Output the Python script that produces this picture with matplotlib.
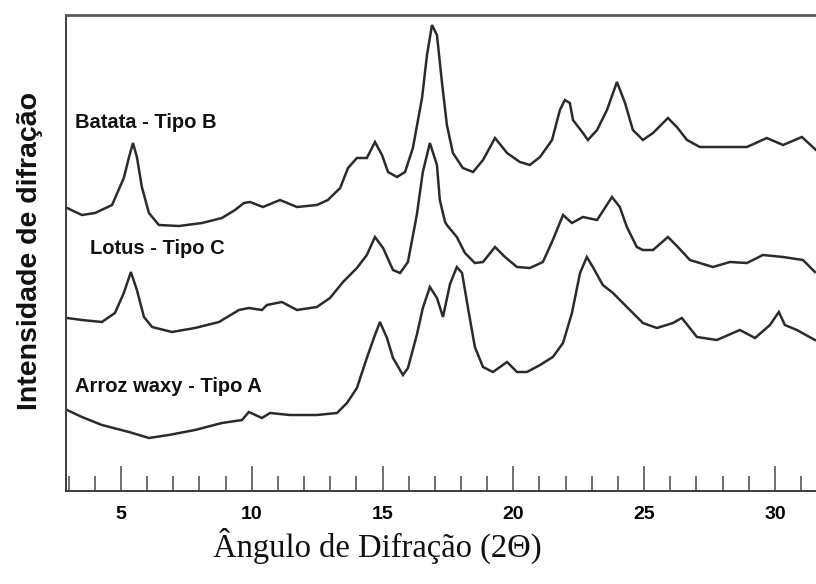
import matplotlib
matplotlib.use("Agg")
import matplotlib.pyplot as plt
from matplotlib import font_manager

# 2-theta (degrees) and diffracted intensity (arbitrary units) for each starch
batata_2theta = [2.94, 3.51, 4.01, 4.66, 5.11, 5.31, 5.46, 5.61, 5.80, 6.07, 6.45, 7.22,
                 8.10, 8.86, 9.36, 9.70, 9.93, 10.43, 11.08, 11.73, 12.49, 12.91, 13.38,
                 13.68, 14.02, 14.40, 14.71, 14.98, 15.21, 15.55, 15.86, 16.16, 16.51,
                 16.70, 16.89, 17.08, 17.27, 17.46, 17.69, 18.07, 18.46, 18.84, 19.30,
                 19.76, 20.25, 20.63, 21.02, 21.48, 21.78, 21.97, 22.16, 22.28, 22.66,
                 22.85, 23.20, 23.58, 23.96, 24.27, 24.57, 24.84, 24.95, 25.34, 25.91,
                 26.25, 26.64, 27.13, 28.01, 28.93, 29.69, 30.31, 31.03, 31.57]
batata_int = [283, 276, 278, 286, 313, 334, 348, 334, 304, 278, 266, 265,
              268, 273, 281, 288, 289, 284, 291, 284, 286, 291, 303,
              323, 333, 333, 349, 336, 319, 314, 319, 343, 393,
              436, 466, 456, 409, 366, 338, 323, 319, 331, 353,
              338, 329, 326, 334, 351, 381, 391, 388, 371, 358,
              351, 361, 381, 409, 388, 361, 354, 351, 358, 373,
              364, 351, 344, 344, 344, 353, 346, 354, 341]

lotus_2theta = [2.94, 3.51, 4.27, 4.77, 5.11, 5.38, 5.61, 5.88, 6.19, 6.95, 7.83, 8.75,
                9.51, 9.89, 10.39, 10.58, 11.15, 11.73, 12.49, 12.99, 13.49, 14.02,
                14.40, 14.71, 15.02, 15.40, 15.67, 15.97, 16.31, 16.54, 16.81, 17.08,
                17.19, 17.39, 17.46, 17.84, 18.15, 18.53, 18.84, 19.30, 19.68, 20.14,
                20.63, 21.13, 21.51, 21.90, 22.24, 22.66, 23.20, 23.50, 23.77, 24.07,
                24.34, 24.72, 24.95, 25.34, 25.91, 26.29, 26.75, 27.63, 28.28, 28.93,
                29.54, 30.31, 31.07, 31.53]
lotus_int = [173, 171, 169, 178, 198, 219, 201, 174, 164, 159, 163, 169,
             181, 183, 181, 186, 189, 181, 184, 193, 209, 223,
             236, 254, 243, 221, 218, 229, 276, 319, 348, 326,
             291, 269, 266, 254, 238, 228, 229, 244, 234, 224,
             223, 229, 251, 276, 268, 274, 271, 283, 294, 284,
             264, 244, 241, 241, 254, 244, 231, 224, 229, 228,
             236, 234, 231, 219]

arroz_2theta = [2.94, 3.51, 4.27, 5.31, 6.07, 6.83, 7.83, 8.86, 9.63, 9.89, 10.39,
                10.70, 11.46, 12.49, 13.26, 13.64, 14.02, 14.40, 14.71, 14.90, 15.17,
                15.40, 15.78, 15.97, 16.31, 16.54, 16.81, 17.08, 17.31, 17.58, 17.84,
                18.04, 18.26, 18.53, 18.84, 19.22, 19.76, 20.14, 20.52, 21.02, 21.51,
                21.90, 22.24, 22.55, 22.81, 23.04, 23.42, 23.81, 24.34, 24.84, 24.95,
                25.49, 26.10, 26.44, 27.02, 27.78, 28.66, 29.24, 29.81, 30.15, 30.38,
                30.84, 31.53]
arroz_int = [81, 74, 66, 59, 53, 56, 61, 68, 71, 79, 73,
             78, 76, 76, 78, 88, 103, 133, 156, 169, 153,
             133, 116, 123, 156, 183, 204, 193, 174, 207, 224,
             218, 184, 144, 124, 119, 129, 119, 119, 126, 134,
             148, 178, 218, 234, 224, 206, 198, 184, 171, 168,
             163, 168, 173, 154, 151, 161, 153, 166, 179, 166,
             161, 151]

series_names = ["Batata - Tipo B", "Lotus - Tipo C", "Arroz waxy - Tipo A"]
label_anchor_2theta = [3.24, 3.81, 3.24]
label_anchor_int = [368, 243, 105]

major_ticks = [5, 10, 15, 20, 25, 30]
minor_ticks = list(range(3, 32))
tick_labels = ["5", "10", "15", "20", "25", "30"]

x_title = "Ângulo de Difração (2Θ)"
y_title = "Intensidade de difração"


def pick(*names):
    available = {f.name for f in font_manager.fontManager.ttflist}
    for n in names:
        if n in available:
            return n
    return "DejaVu Sans"


sans = pick("Liberation Sans", "Arial", "DejaVu Sans")
serif = pick("Liberation Serif", "Times New Roman", "DejaVu Serif")

fig = plt.figure(figsize=(8.16, 5.84), dpi=100)
ax = fig.add_axes([66 / 816, 93 / 584, 750 / 816, 476 / 584])

line_color = "#2b2b2b"
for xs, ys in [(batata_2theta, batata_int), (lotus_2theta, lotus_int), (arroz_2theta, arroz_int)]:
    ax.plot(xs, ys, color=line_color, lw=1.8, solid_joinstyle="miter")

ax.set_xlim(2.90, 31.57)
ax.set_ylim(0, 476)

for name, tx, ty in zip(series_names, label_anchor_2theta, label_anchor_int):
    ax.text(tx, ty, name, fontsize=14.5, fontweight="bold", family=[sans, "DejaVu Sans"],
            ha="left", va="center", color="#111111")

ax.set_xticks(major_ticks)
ax.set_xticks(minor_ticks, minor=True)
ax.set_xticklabels(tick_labels)
for lab in ax.get_xticklabels():
    lab.set_fontweight("bold")
    lab.set_family([sans, "DejaVu Sans"])
ax.tick_params(axis="x", which="major", direction="in", length=18, width=1.2,
               color="#555555", labelsize=14, pad=11)
ax.tick_params(axis="x", which="minor", direction="in", length=11, width=1.2,
               color="#555555")
ax.set_yticks([])

for side in ("left", "bottom"):
    ax.spines[side].set_color("#3c3c3c")
    ax.spines[side].set_linewidth(1.4)
ax.spines["top"].set_color("#5a5a5a")
ax.spines["top"].set_linewidth(2.0)
ax.spines["right"].set_visible(False)

fig.text(30 / 816, (584 - 251) / 584, y_title, rotation=90, ha="center", va="center",
         fontsize=20.5, fontweight="bold", family=[sans, "DejaVu Sans"], color="#111111")
fig.text(377 / 816, 27 / 584, x_title, ha="center", va="baseline",
         fontsize=23.5, family=[serif, "DejaVu Serif"], color="#111111")

fig.savefig("out.png", dpi=100)
